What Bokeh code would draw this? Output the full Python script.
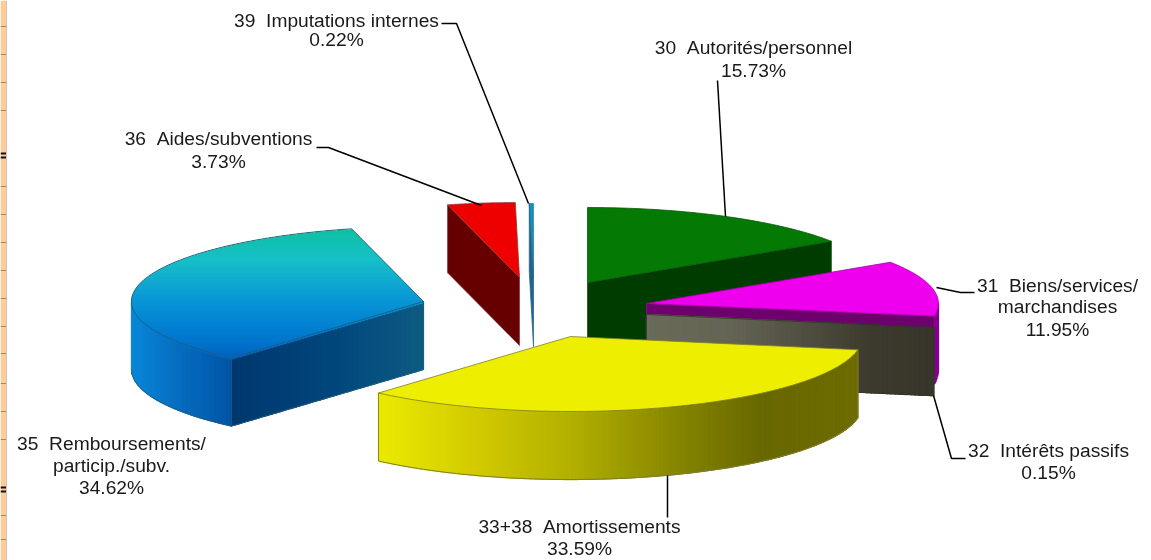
import math
from bokeh.plotting import figure
from bokeh.models import Range1d
from bokeh.core.properties import value
from bokeh.embed import file_html
from bokeh.resources import INLINE

# ---- data ----
categories = ["30", "31", "32", "33+38", "35", "36", "39"]
shares = [15.73, 11.95, 0.15, 33.59, 34.62, 3.73, 0.22]
label_lines = [
    ["30  Autorités/personnel", "15.73%"],
    ["31  Biens/services/", "marchandises", "11.95%"],
    ["32  Intérêts passifs", "0.15%"],
    ["33+38  Amortissements", "33.59%"],
    ["35  Remboursements/", "particip./subv.", "34.62%"],
    ["36  Aides/subventions", "3.73%"],
    ["39  Imputations internes", "0.22%"],
]

# ---- layout / style ----
W, H = 1151, 560
RX, RY, DEPTH = 292.0, 75.0, 68.0
apex = {"30": (587, 282), "31": (646, 303), "32": (646, 314), "33+38": (570, 336),
        "35": (423, 301), "36": (519, 277), "39": (533, 278)}
top_color = {"30": "#047a04", "31": "#ee00ee", "32": "#55554a", "33+38": "#eeee00",
             "36": "#ee0000", "39": "#0a94cc"}
edge_color = {"30": "#0a5a0a", "31": "#a000a0", "32": "#333328", "33+38": "#7f7f2a",
              "35": "#1f5f78", "36": "#8a3a3a", "39": "#2a6a8a"}
label_xy = {"30": (753, [47, 70]), "31": (1057, [285, 306, 329]), "32": (1048, [450, 472]),
            "33+38": (579, [526, 548]), "35": (111, [443, 465, 487]),
            "36": (218, [138, 161]), "39": (336, [20, 39])}
leaders = [[(717, 80), (725, 216)], [(974, 292), (960, 292), (936, 287)],
           [(933, 395), (951, 458), (965, 458)], [(667, 475), (667, 517)],
           [(316, 147), (328, 147), (481, 205)], [(441, 23), (456, 23), (528, 203)]]
grid_y = [26, 54, 82, 110, 186, 214, 242, 270, 298, 326, 353, 383, 411, 439, 515, 539]
black_y = [[153, 157], [487, 491]]

p = figure(width=W, height=H, output_backend="svg", toolbar_location=None,
           x_range=Range1d(0, W), y_range=Range1d(H, 0), min_border=0,
           background_fill_color="white", border_fill_color="white", outline_line_color=None)
p.axis.visible = False
p.grid.visible = False
p.styles = {"position": "fixed", "left": "0", "top": "0"}

def lerp(stops, t):
    t = max(min(t, stops[-1][0]), stops[0][0])
    for (a, ca), (b, cb) in zip(stops, stops[1:]):
        if t <= b:
            f = (t - a) / (b - a) if b > a else 0
            return "#%02x%02x%02x" % tuple(round(ca[i] + (cb[i] - ca[i]) * f) for i in range(3))
    return "#%02x%02x%02x" % stops[-1][1]

def pt(cat, deg, dz=0.0):
    a = math.radians(deg)
    cx, cy = apex[cat]
    return cx + RX * math.sin(a), cy - RY * math.cos(a) + dz

def arc(cat, a0, a1, n=60, dz=0.0):
    return [pt(cat, a0 + (a1 - a0) * i / n, dz) for i in range(n + 1)]

def poly(points, fill, line=None, lw=1.0):
    xs = [q[0] for q in points]; ys = [q[1] for q in points]
    p.patch(xs, ys, fill_color=fill, line_color=line or fill, line_width=lw)

def outline(points, color, lw=1.0):
    p.line([q[0] for q in points], [q[1] for q in points], line_color=color, line_width=lw)

def cut_face(cat, deg, fill=None, stops=None):
    c = apex[cat]; e = pt(cat, deg)
    quad = [c, e, (e[0], e[1] + DEPTH), (c[0], c[1] + DEPTH)]
    if stops is None:
        poly(quad, fill, edge_color[cat], 0.8)
    else:
        x0, x1 = sorted((c[0], e[0]))
        def yat(x):
            return c[1] + (e[1] - c[1]) * (x - c[0]) / (e[0] - c[0])
        xa = x0
        while xa < x1:
            xb = min(xa + 5, x1)
            poly([(xa, yat(xa)), (xb, yat(xb)), (xb, yat(xb) + DEPTH), (xa, yat(xa) + DEPTH)],
                 lerp(stops, xa), None, 1.2)
            xa += 4
        outline(quad + [quad[0]], edge_color[cat], 0.8)

def wall(cat, a0, a1, stops):
    # strips of roughly equal width on screen
    fine = arc(cat, a0, a1, 600)
    keep = [fine[0]]
    for q in fine[1:]:
        if abs(q[0] - keep[-1][0]) >= 3:
            keep.append(q)
    if keep[-1] != fine[-1]:
        keep.append(fine[-1])
    if keep[0][0] > keep[-1][0]:
        ordered = list(zip(keep, keep[1:]))
    else:
        ordered = list(zip(keep, keep[1:]))
    for q0, q1 in ordered:
        poly([q0, q1, (q1[0], q1[1] + DEPTH), (q0[0], q0[1] + DEPTH)],
             lerp(stops, (q0[0] + q1[0]) / 2), None, 1.3)
    outline(arc(cat, a0, a1, 100, DEPTH), edge_color[cat], 1.0)

def top_face(cat, a0, a1, stops=None):
    pts = [apex[cat]] + arc(cat, a0, a1, 80)
    if stops is None:
        poly(pts, top_color[cat], edge_color[cat], 0.8)
        return
    ys = [q[1] for q in pts]
    y = min(ys)
    closed = pts + [pts[0]]
    while y < max(ys):
        crossings = []
        for (xa, ya), (xb, yb) in zip(closed, closed[1:]):
            if (ya <= y < yb) or (yb <= y < ya):
                crossings.append(xa + (y - ya) / (yb - ya) * (xb - xa))
        if len(crossings) >= 2:
            l, r = min(crossings), max(crossings)
            poly([(l, y), (r, y), (r, y + 2), (l, y + 2)], lerp(stops, y), None, 0.6)
        y += 1.0
    outline(closed, edge_color[cat], 0.9)

# cumulative angles from the shares
angles = {}
acc = 0.0
for c, s in zip(categories, shares):
    angles[c] = (acc / 100 * 360, (acc + s) / 100 * 360)
    acc += s

# left spreadsheet strip
p.quad(left=0, right=5.5, top=0, bottom=H, fill_color="#ffcc99", line_color=None)
p.quad(left=5.5, right=6.5, top=0, bottom=H, fill_color="#c9c4bc", line_color=None)
for y in grid_y:
    p.line([0, 5.5], [y, y], line_color="#8f8270", line_width=0.9)
for pair in black_y:
    for y in pair:
        p.line([0, 5.5], [y, y], line_color="#111111", line_width=1.8)

# painter's order: back to front
a0, a1 = angles["30"]
cut_face("30", a1, "#003c00")
top_face("30", a0, a1)

a0, a1 = angles["39"]
cut_face("39", a0, "#1c6590")
top_face("39", a0, a1)

a0, a1 = angles["36"]
cut_face("36", a0, "#660000")
top_face("36", a0, a1)

a0, a1 = angles["35"]
wall("35", a0, 270, [(131, (8, 134, 216)), (180, (6, 108, 190)), (231, (0, 84, 166))])
cut_face("35", a0, stops=[(231, (0, 56, 110)), (330, (0, 70, 124)), (423, (14, 92, 130))])
top_face("35", a0, a1, stops=[(228, (14, 192, 160)), (258, (24, 192, 200)),
                              (300, (10, 150, 214)), (340, (0, 118, 206)), (358, (0, 98, 190))])

a0, a1 = angles["31"]
wall("31", 90, a1, [(930, (120, 0, 130)), (940, (140, 0, 150))])
cut_face("31", a1, "#6e006e")
top_face("31", a0, a1)

a0, a1 = angles["32"]
cut_face("32", a1, stops=[(646, (106, 106, 88)), (730, (100, 100, 84)), (870, (60, 58, 46)), (934, (56, 53, 42))])

a0, a1 = angles["33+38"]
wall("33+38", a0, a1, [(379, (234, 234, 0)), (470, (212, 204, 0)), (570, (178, 176, 0)),
                       (690, (128, 128, 0)), (760, (104, 104, 0)), (858, (108, 108, 0))])
pts = arc("33+38", a0, a1, 80)
outline([pts[0], (pts[0][0], pts[0][1] + DEPTH)], edge_color["33+38"], 0.9)
outline([pts[-1], (pts[-1][0], pts[-1][1] + DEPTH)], edge_color["33+38"], 0.9)
top_face("33+38", a0, a1)

# leaders
for seg in leaders:
    outline(seg, "#000000", 1.5)

# labels
for c, lines in zip(categories, label_lines):
    x, ys = label_xy[c]
    for line, y in zip(lines, ys):
        p.text([x], [y], text=[line.replace("  ", "\u00a0\u00a0")], text_align="center",
               text_baseline="middle", text_color="#1a1a1a",
               text_font=value("Liberation Sans"), text_font_size="19.2px")

open("out.html", "w").write(file_html(p, INLINE))
